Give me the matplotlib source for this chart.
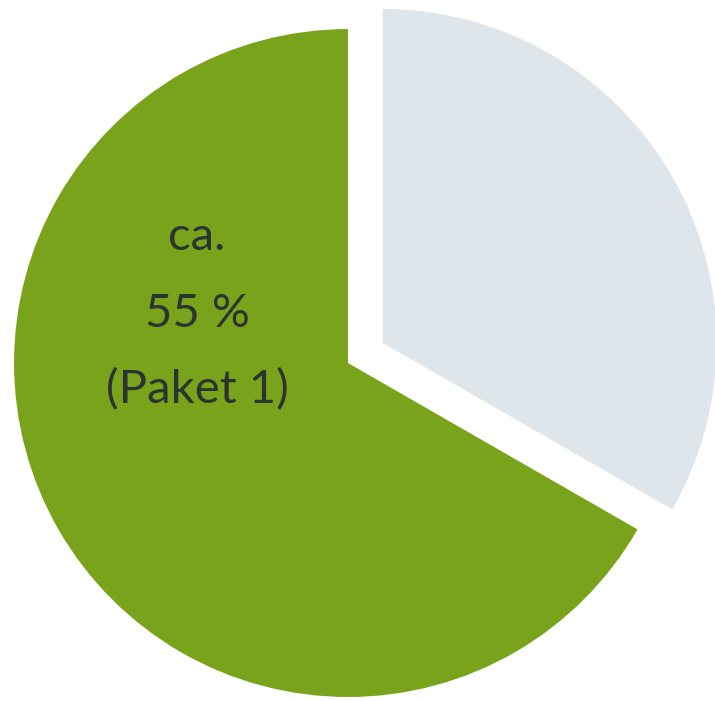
import matplotlib
matplotlib.use("Agg")
import matplotlib.pyplot as plt

# Anteile (graues Stueck ~1/3, gruenes ~2/3)
labels = ["Rest", "Paket 1"]
sizes = [33.3, 66.7]
colors = ["#dee5eb", "#7aa31c"]
explode = [0.12, 0.0]
text_lines = ["ca.", "55 %", "(Paket 1)"]

fig = plt.figure(figsize=(7.15, 7.01), dpi=100)
ax = fig.add_axes([0, 0, 1, 1])

ax.pie(sizes, colors=colors, explode=explode, startangle=90,
       counterclock=False, radius=1.0,
       wedgeprops=dict(linewidth=0))

# Beschriftung im gruenen Stueck
y0 = 0.377
for k, line in enumerate(text_lines):
    ax.text(-0.452, y0 - k * 0.229, line, ha="center", va="center",
            fontsize=34, family=["Lato", "DejaVu Sans"], weight="normal",
            color="#2a3530")

ax.set_xlim(-1.042, 1.099)
ax.set_ylim(-1.012, 1.087)
ax.set_aspect("equal")
ax.axis("off")

fig.savefig("out.png", dpi=100, facecolor="white")
